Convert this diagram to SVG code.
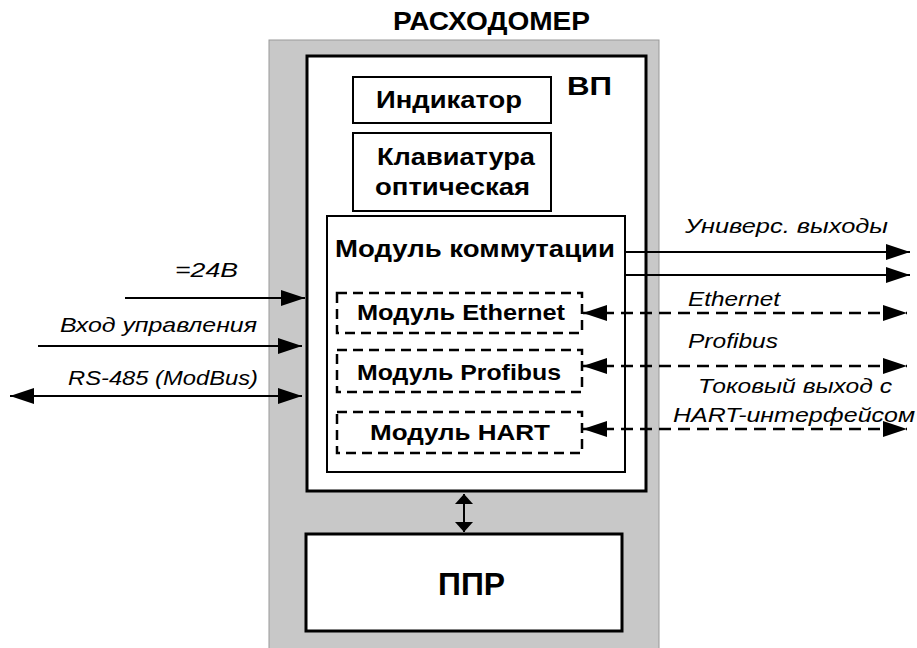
<svg xmlns="http://www.w3.org/2000/svg" width="917" height="648" viewBox="0 0 917 648">
<defs>
<marker id="ah" viewBox="0 0 10 18" refX="10" refY="9" markerWidth="10" markerHeight="18" markerUnits="userSpaceOnUse" orient="auto-start-reverse"><path d="M0,0 L10,9 L0,18 z" fill="#000"/></marker>
<marker id="ah2" viewBox="0 0 24 16" refX="24" refY="8" markerWidth="24" markerHeight="16" markerUnits="userSpaceOnUse" orient="auto-start-reverse"><path d="M0,0 L24,8 L0,16 z" fill="#000"/></marker>
<style>
.t{font-family:"Liberation Sans",Arial,sans-serif;fill:#000}
.b{font-weight:bold}
.i{font-style:italic}
.box{fill:#fff;stroke:#000;stroke-width:2}
.dbox{fill:none;stroke:#000;stroke-width:2.5;stroke-dasharray:10,6}
.ln{stroke:#000;stroke-width:2;fill:none}
.dl{stroke:#000;stroke-width:2.5;fill:none;stroke-dasharray:12,7}
</style>
</defs>
<rect width="917" height="648" fill="#fff"/>
<g id="raskhodomer">
<rect x="269" y="40" width="390" height="620" fill="#c8c8c8" stroke="#999" stroke-width="1"/>
<text class="t b" x="393" y="30" font-size="25" textLength="197" lengthAdjust="spacingAndGlyphs">РАСХОДОМЕР</text>
</g>
<g id="vp">
<rect x="307" y="56" width="339" height="435" fill="#fff" stroke="#000" stroke-width="3"/>
<text class="t b" x="567" y="95" font-size="26" textLength="45" lengthAdjust="spacingAndGlyphs">ВП</text>
</g>
<g id="indikator">
<rect class="box" x="353" y="77" width="198" height="46"/>
<text class="t b" x="376" y="108" font-size="24" textLength="146" lengthAdjust="spacingAndGlyphs">Индикатор</text>
</g>
<g id="klaviatura">
<rect class="box" x="353" y="133" width="198" height="78"/>
<text class="t b" x="377" y="165" font-size="24" textLength="158" lengthAdjust="spacingAndGlyphs">Клавиатура</text>
<text class="t b" x="375" y="195" font-size="24" textLength="155" lengthAdjust="spacingAndGlyphs">оптическая</text>
</g>
<g id="modul-kommutatsii">
<rect class="box" x="327" y="216" width="298" height="256"/>
<text class="t b" x="335" y="257" font-size="24" textLength="280" lengthAdjust="spacingAndGlyphs">Модуль коммутации</text>
</g>
<g id="modul-ethernet">
<rect class="dbox" x="337" y="293" width="245" height="40"/>
<text class="t b" x="357" y="320" font-size="22" textLength="208" lengthAdjust="spacingAndGlyphs">Модуль  Ethernet</text>
</g>
<g id="modul-profibus">
<rect class="dbox" x="337" y="350" width="245" height="42"/>
<text class="t b" x="357" y="380" font-size="22" textLength="204" lengthAdjust="spacingAndGlyphs">Модуль Profibus</text>
</g>
<g id="modul-hart">
<rect class="dbox" x="337" y="412" width="245" height="41"/>
<text class="t b" x="370" y="440" font-size="22" textLength="180" lengthAdjust="spacingAndGlyphs">Модуль  HART</text>
</g>
<g id="ppr">
<rect x="306" y="534" width="316" height="97" fill="#fff" stroke="#000" stroke-width="3"/>
<text class="t b" x="438" y="595" font-size="32" textLength="67" lengthAdjust="spacingAndGlyphs">ППР</text>
</g>
<g id="connectors">
<line class="ln" x1="125" y1="298" x2="305" y2="298" marker-end="url(#ah2)"/>
<line class="ln" x1="38" y1="346" x2="302" y2="346" marker-end="url(#ah2)"/>
<line class="ln" x1="10" y1="396" x2="302" y2="396" marker-start="url(#ah2)" marker-end="url(#ah2)"/>
<line class="ln" x1="625" y1="252" x2="910" y2="252" marker-end="url(#ah2)"/>
<line class="ln" x1="625" y1="275" x2="910" y2="275" marker-end="url(#ah2)"/>
<line class="dl" x1="583" y1="313" x2="907" y2="313" marker-start="url(#ah2)" marker-end="url(#ah2)"/>
<line class="dl" x1="583" y1="366" x2="907" y2="366" marker-start="url(#ah2)" marker-end="url(#ah2)"/>
<line class="dl" x1="583" y1="429" x2="907" y2="429" marker-start="url(#ah2)" marker-end="url(#ah2)"/>
<line class="ln" x1="464" y1="494" x2="464" y2="532" marker-start="url(#ah)" marker-end="url(#ah)"/>
</g>
<g id="labels">
<text class="t i" x="175" y="277" font-size="21" textLength="63" lengthAdjust="spacingAndGlyphs">=24В</text>
<text class="t i" x="60" y="332" font-size="21" textLength="197" lengthAdjust="spacingAndGlyphs">Вход управления</text>
<text class="t i" x="68" y="385" font-size="21" textLength="190" lengthAdjust="spacingAndGlyphs">RS-485 (ModBus)</text>
<text class="t i" x="685" y="233" font-size="21" textLength="203" lengthAdjust="spacingAndGlyphs">Универс. выходы</text>
<text class="t i" x="688" y="306" font-size="21" textLength="92" lengthAdjust="spacingAndGlyphs">Ethernet</text>
<text class="t i" x="688" y="348" font-size="21" textLength="90" lengthAdjust="spacingAndGlyphs">Profibus</text>
<text class="t i" x="698" y="393" font-size="21" textLength="194" lengthAdjust="spacingAndGlyphs">Токовый выход с</text>
<text class="t i" x="673" y="422" font-size="21" textLength="242" lengthAdjust="spacingAndGlyphs">HART-интерфейсом</text>
</g>
</svg>
